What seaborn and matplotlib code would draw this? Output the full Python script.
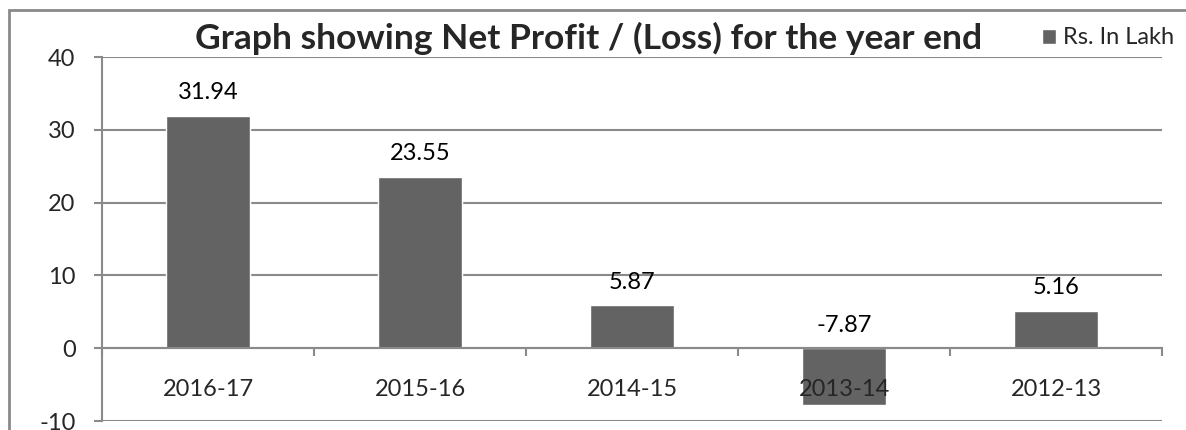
import pandas as pd
import seaborn as sns
import matplotlib.pyplot as plt
from matplotlib.patches import Rectangle
from matplotlib.ticker import FixedLocator

# Net profit / (loss) per year, Rs. in lakh
years = ["2016-17", "2015-16", "2014-15", "2013-14", "2012-13"]
profit = [31.94, 23.55, 5.87, -7.87, 5.16]
series_name = "Rs. In Lakh"

df = pd.DataFrame({"year": years, "profit": profit, "series": series_name})

sns.set_theme(style="white")
plt.rcParams["font.family"] = ["Lato", "DejaVu Sans"]
plt.rcParams["axes.unicode_minus"] = False

bar_color = "#636363"
grid_color = "#8a8a8a"

fig = plt.figure(figsize=(11.86, 4.30), dpi=100)
ax = fig.add_axes([102 / 1186, 1 - 421 / 430, 1060 / 1186, 364 / 430])

sns.barplot(data=df, x="year", y="profit", hue="series", palette=[bar_color],
            width=0.4, saturation=1.0, ax=ax, legend=True)

ax.set_ylim(-10, 40)
ax.set_xlim(-0.5, len(years) - 0.5)
ax.set_yticks([-10, 0, 10, 20, 30, 40])
ax.yaxis.grid(True, color=grid_color, linewidth=1.5)
ax.set_axisbelow(True)
ax.xaxis.set_zorder(5)  # category labels sit on top of the negative bar
ax.set_xlabel("")
ax.set_ylabel("")

for s in ["top", "right"]:
    ax.spines[s].set_visible(False)
ax.spines["left"].set_color(grid_color)
ax.spines["left"].set_linewidth(1.5)
ax.spines["bottom"].set_color(grid_color)
ax.spines["bottom"].set_linewidth(1.5)
ax.spines["bottom"].set_position(("data", 0))
ax.spines["bottom"].set_zorder(1)

ax.tick_params(axis="y", length=6, width=1.5, color=grid_color, pad=13,
               labelsize=17, left=True)
ax.tick_params(axis="x", which="major", length=0, pad=22, labelsize=17)
ax.xaxis.set_minor_locator(FixedLocator([i - 0.5 for i in range(len(years) + 1)]))
ax.tick_params(axis="x", which="minor", length=6, width=1.5, color=grid_color,
               direction="out", bottom=True)

# value labels
for i, v in enumerate(profit):
    ax.annotate(f"{v:.2f}", xy=(i, max(v, 0)), xytext=(0, 9),
                textcoords="offset points", ha="center", va="bottom",
                fontsize=17, color="black")

# legend top right
leg = ax.legend(loc="center left", bbox_to_anchor=(1042 / 1186, 1 - 38 / 430),
                bbox_transform=fig.transFigure, frameon=False, fontsize=17,
                handlelength=0.6, handleheight=0.6, handletextpad=0.3,
                borderpad=0, borderaxespad=0)

fig.text(589 / 1186, 1 - 38 / 430, "Graph showing Net Profit / (Loss) for the year end",
         ha="center", va="center", fontsize=25.5, fontweight="bold")

# outer chart border
fig.patches.append(Rectangle((9 / 1186, -0.1), 1.2, 1 - 10 / 430 + 0.1,
                             transform=fig.transFigure, fill=False,
                             edgecolor=grid_color, linewidth=2))

fig.savefig("out.png", dpi=100)
